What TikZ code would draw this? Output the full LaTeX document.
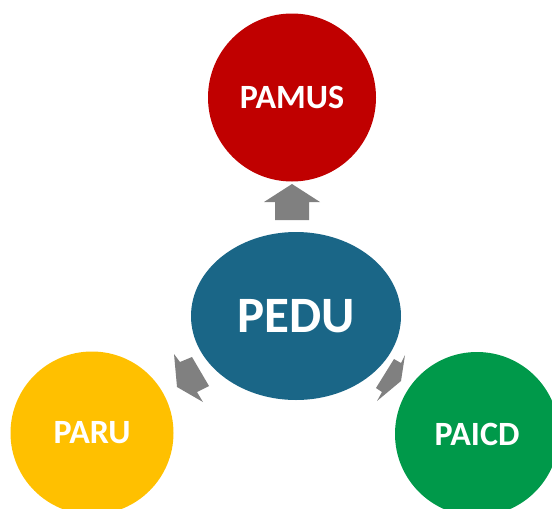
\documentclass[tikz,border=0pt]{standalone}
\usepackage{fontspec}
\setmainfont{Carlito}
\usetikzlibrary{shapes.geometric}
\definecolor{cred}{HTML}{C00000}
\definecolor{cblue}{HTML}{1A6687}
\definecolor{cyellow}{HTML}{FFC000}
\definecolor{cgreen}{HTML}{00994A}
\definecolor{cgrey}{HTML}{808080}
\tikzset{
  ball/.style={circle, inner sep=0pt, minimum size=#1, text=white, font=\bfseries\fontsize{34}{40}\selectfont},
  blockarrow/.style={fill=cgrey, draw=none}
}
\begin{document}
\begin{tikzpicture}[x=1pt,y=-1pt]
\useasboundingbox (0,0) rectangle (552,509);
\clip (0,0) rectangle (552,509);
\node[ball=168pt, fill=cred] (pamus) at (292,97.5) {PAMUS};
\node[ellipse, inner sep=0pt, minimum width=210pt, minimum height=168pt, fill=cblue, text=white, font=\bfseries\fontsize{51}{60}\selectfont] (pedu) at (296,316) {PEDU};
\node[ball=163pt, fill=cyellow] (paru) at (92,433) {PARU};
\node[ball=164pt, fill=cgreen] (paicd) at (477,434) {PAICD};
% arrows
\fill[blockarrow] (292,184) -- (320,202) -- (309,202) -- (309,220) -- (275,220) -- (275,202) -- (264,202) -- cycle;
\fill[blockarrow] (174,354) -- (180,362) -- (192,357) -- (209,386) -- (197,392) -- (203,402) -- (177,387) -- cycle;
\fill[blockarrow] (405,355) -- (401,363) -- (394,359) -- (376,388) -- (382,392) -- (377,401) -- (401,381) -- cycle;
\end{tikzpicture}
\end{document}
